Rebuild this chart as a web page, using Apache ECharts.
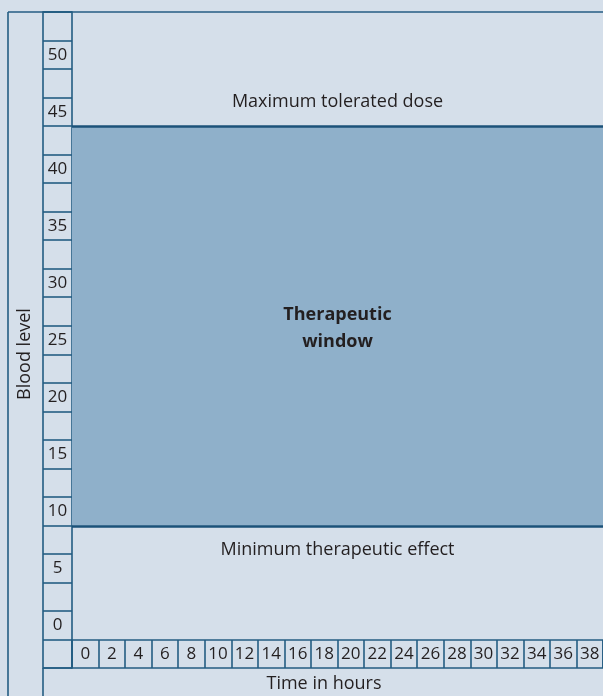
<!DOCTYPE html>
<html>
<head>
<meta charset="utf-8">
<script src="https://cdn.jsdelivr.net/npm/echarts@6/dist/echarts.min.js"></script>
<style>
  html, body { margin: 0; padding: 0; background: #d5dfea; }
  #chart { width: 603px; height: 696px; }
</style>
</head>
<body>
<div id="chart"></div>
<script>
// y column cells, bottom to top (first one is the empty corner cell)
const yCells = ['', '0', '', '5', '', '10', '', '15', '', '20', '', '25', '', '30', '', '35', '', '40', '', '45', '', '50', '']
// x row cells, hours
const xCells = ['0', '2', '4', '6', '8', '10', '12', '14', '16', '18', '20', '22', '24', '26', '28', '30', '32', '34', '36', '38']
// therapeutic window bounds (blood level)
const windowLow = 10
const windowHigh = 45
// text annotations inside the plot
const annoText = ['Maximum tolerated dose', '{b|Therapeutic\nwindow}', 'Minimum therapeutic effect']
const annoX = [20, 20, 20]
const annoY = [47.1, 27.3, 7.9]

const lineColor = '#245d83'
const textColor = '#231f20'
const font = 'Open Sans'

const chart = echarts.init(document.getElementById('chart'))

const cellAxis = (data) => ({
  type: 'category',
  data: data,
  boundaryGap: true,
  axisLine: { show: false },
  axisTick: { show: false },
  splitLine: { show: true, interval: 0, lineStyle: { color: lineColor, width: 1.6 } },
  axisLabel: {
    show: true,
    interval: 0,
    inside: true,
    fontFamily: font,
    fontSize: 17,
    color: textColor
  }
})

const yCol = cellAxis(yCells)
yCol.gridIndex = 1
yCol.axisLabel.align = 'center'
yCol.axisLabel.margin = 14.5

const xRow = cellAxis(xCells)
xRow.gridIndex = 2
xRow.axisLabel.verticalAlign = 'middle'
xRow.axisLabel.margin = 14

chart.setOption({
  backgroundColor: '#d5dfea',
  animation: false,
  grid: [
    { left: 72, top: 12, right: -3, bottom: 56 },
    { left: 43, width: 29, top: 12, bottom: 28, show: true, borderColor: lineColor, borderWidth: 1.6, backgroundColor: 'transparent' },
    { left: 72, right: -3, top: 640, bottom: 28, show: true, borderColor: lineColor, borderWidth: 1.6, backgroundColor: 'transparent' }
  ],
  xAxis: [
    { gridIndex: 0, type: 'value', min: 0, max: 40, show: false },
    { gridIndex: 1, type: 'value', show: false },
    xRow
  ],
  yAxis: [
    { gridIndex: 0, type: 'value', min: 0, max: 55, show: false },
    yCol,
    { gridIndex: 2, type: 'value', show: false }
  ],
  graphic: [
    { type: 'line', shape: { x1: 8, y1: 12, x2: 8, y2: 700 }, style: { stroke: lineColor, lineWidth: 1.6 } },
    { type: 'line', shape: { x1: 8, y1: 12, x2: 610, y2: 12 }, style: { stroke: lineColor, lineWidth: 1.6 } },
    { type: 'line', shape: { x1: 43, y1: 668, x2: 43, y2: 700 }, style: { stroke: lineColor, lineWidth: 1.6 } },
    {
      type: 'text', x: 25, y: 354, rotation: Math.PI / 2,
      style: { text: 'Blood level', fontFamily: font, fontSize: 18, fill: textColor, textAlign: 'center', textVerticalAlign: 'middle' }
    },
    {
      type: 'text', x: 324, y: 684,
      style: { text: 'Time in hours', fontFamily: font, fontSize: 18, fill: textColor, textAlign: 'center', textVerticalAlign: 'middle' }
    }
  ],
  series: [
    {
      type: 'scatter',
      xAxisIndex: 0,
      yAxisIndex: 0,
      symbolSize: 0,
      itemStyle: { opacity: 1 },
      data: annoX.map((x, i) => ({ value: [x, annoY[i]], name: annoText[i] })),
      label: {
        show: true,
        position: 'inside',
        formatter: (p) => p.name,
        fontFamily: font,
        fontSize: 18,
        color: textColor,
        lineHeight: 27,
        rich: { b: { fontFamily: font, fontSize: 18, fontWeight: 'bold', color: textColor, lineHeight: 27 } }
      },
      markArea: {
        silent: true,
        itemStyle: { color: '#8fb0ca' },
        data: [[{ yAxis: windowLow }, { yAxis: windowHigh }]]
      },
      markLine: {
        silent: true,
        symbol: 'none',
        label: { show: false },
        lineStyle: { color: '#1b5279', width: 2.5, type: 'solid' },
        data: [{ yAxis: windowLow }, { yAxis: windowHigh }]
      },
      z: 5
    }
  ]
})
</script>
</body>
</html>
